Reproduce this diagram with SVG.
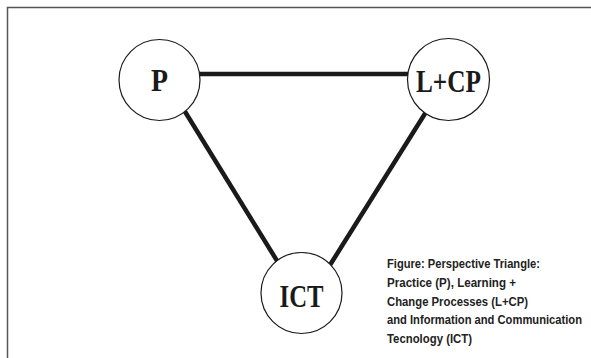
<svg xmlns="http://www.w3.org/2000/svg" width="591" height="358" viewBox="0 0 591 358">
<style>
.node circle{fill:#fff;stroke:#1a1a1a;stroke-width:1.2}
.node text{font-family:"Liberation Serif","DejaVu Serif",serif;font-weight:bold;font-size:31px;fill:#1a1a1a;text-anchor:middle}
.conn line{stroke:#1a1a1a;stroke-width:4.5;stroke-linecap:butt}
.cap{font-family:"Liberation Sans","DejaVu Sans",sans-serif;font-weight:bold;font-size:13.5px;fill:#222}
</style>
<rect width="591" height="358" fill="#fff"/>
<path d="M7.5 358 V7.5 H591" fill="none" stroke="#555" stroke-width="1.5"/>
<g id="connectors" class="conn">
<line x1="198" y1="74" x2="410" y2="74"/>
<line x1="184" y1="110" x2="279" y2="264"/>
<line x1="426" y1="112" x2="330" y2="265"/>
</g>
<g id="node-P" class="node">
<circle cx="159.5" cy="80" r="40.5"/>
<text x="159.5" y="90.5" textLength="17" lengthAdjust="spacingAndGlyphs">P</text>
</g>
<g id="node-LCP" class="node">
<circle cx="448.5" cy="79.5" r="41"/>
<text x="448.5" y="92" textLength="65" lengthAdjust="spacingAndGlyphs">L+CP</text>
</g>
<g id="node-ICT" class="node">
<circle cx="301.5" cy="293" r="40.5"/>
<text x="301.5" y="307" textLength="44" lengthAdjust="spacingAndGlyphs">ICT</text>
</g>
<g id="caption" class="cap">
<text x="387" y="268" textLength="153" lengthAdjust="spacingAndGlyphs">Figure: Perspective Triangle:</text>
<text x="387" y="287" textLength="129" lengthAdjust="spacingAndGlyphs">Practice (P), Learning +</text>
<text x="387" y="305.5" textLength="141" lengthAdjust="spacingAndGlyphs">Change Processes (L+CP)</text>
<text x="387" y="324" textLength="195" lengthAdjust="spacingAndGlyphs">and Information and Communication</text>
<text x="387" y="343" textLength="85" lengthAdjust="spacingAndGlyphs">Tecnology (ICT)</text>
</g>
</svg>
